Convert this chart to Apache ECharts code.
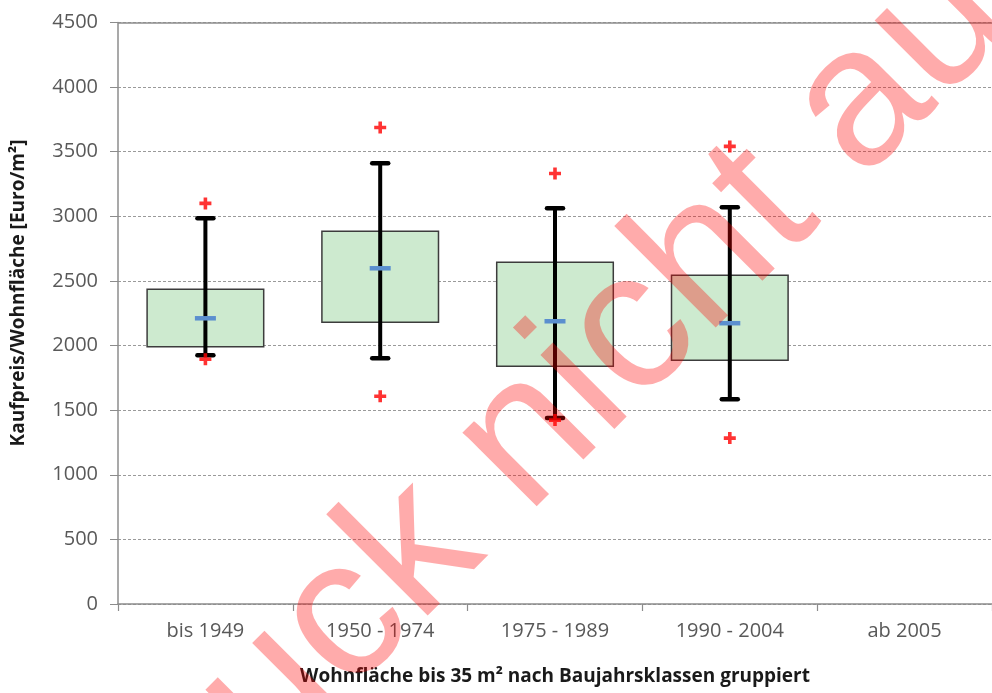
<!DOCTYPE html>
<html>
<head>
<meta charset="utf-8">
<script src="https://cdn.jsdelivr.net/npm/echarts@6/dist/echarts.min.js"></script>
<style>
  html, body { margin: 0; padding: 0; background: #fff; }
  #chart { width: 992px; height: 693px; }
</style>
</head>
<body>
<div id="chart"></div>
<script>
// Construction-year classes on the category axis
const categories = ['bis 1949', '1950 - 1974', '1975 - 1989', '1990 - 2004', 'ab 2005'];

// Box plot statistics in Euro/m² (null = no sales in that class)
const whiskerLow  = [1925, 1902, 1440, 1585, null];
const quartileLow = [1990, 2180, 1840, 1887, null];
const median      = [2211, 2598, 2188, 2173, null];
const quartileHigh= [2435, 2884, 2644, 2544, null];
const whiskerHigh = [2985, 3410, 3062, 3070, null];

// Outliers above and below the whiskers
const outlierHigh = [3100, 3688, 3332, 3541, null];
const outlierLow  = [1894, 1608, 1423, 1284, null];

// Value axis range
const yMin = 0, yMax = 4500, yStep = 500;

const boxData = categories
  .map((c, i) => [i, whiskerLow[i], quartileLow[i], median[i], quartileHigh[i], whiskerHigh[i]])
  .filter(d => d[1] != null);

const outlierData = [];
categories.forEach((c, i) => {
  if (outlierHigh[i] != null) outlierData.push([i, outlierHigh[i]]);
  if (outlierLow[i] != null) outlierData.push([i, outlierLow[i]]);
});

const labelFont = '"Open Sans", "Noto Sans", sans-serif';

function renderBox(params, api) {
  const i = api.value(0);
  const lo = api.coord([i, api.value(1)]);
  const q1 = api.coord([i, api.value(2)]);
  const md = api.coord([i, api.value(3)]);
  const q3 = api.coord([i, api.value(4)]);
  const hi = api.coord([i, api.value(5)]);
  const cx = lo[0];
  const bw = api.size([1, 0])[0] * 0.667;
  const capW = 16, medW = 21;
  return {
    type: 'group',
    children: [
      { type: 'rect',
        shape: { x: cx - bw / 2, y: q3[1], width: bw, height: q1[1] - q3[1] },
        style: { fill: '#cdeacf', stroke: '#3c3c3c', lineWidth: 1.5 } },
      { type: 'line',
        shape: { x1: cx, y1: hi[1], x2: cx, y2: lo[1] },
        style: { stroke: '#000', lineWidth: 4 } },
      { type: 'line',
        shape: { x1: cx - capW / 2, y1: hi[1], x2: cx + capW / 2, y2: hi[1] },
        style: { stroke: '#000', lineWidth: 4.5, lineCap: 'round' } },
      { type: 'line',
        shape: { x1: cx - capW / 2, y1: lo[1], x2: cx + capW / 2, y2: lo[1] },
        style: { stroke: '#000', lineWidth: 4.5, lineCap: 'round' } },
      { type: 'line',
        shape: { x1: cx - medW / 2, y1: md[1], x2: cx + medW / 2, y2: md[1] },
        style: { stroke: '#5b8fcf', lineWidth: 4.5 } }
    ]
  };
}

const chart = echarts.init(document.getElementById('chart'), null, { renderer: 'canvas' });

chart.setOption({
  backgroundColor: '#ffffff',
  animation: false,
  grid: { left: 118, top: 22.5, width: 885, height: 581.5, containLabel: false },
  xAxis: {
    type: 'category',
    data: categories,
    boundaryGap: true,
    axisLine: { lineStyle: { color: '#8c8c8c', width: 1.5 } },
    axisTick: { show: true, length: 7, lineStyle: { color: '#8c8c8c', width: 1.2 } },
    axisLabel: { color: '#595959', fontSize: 20, fontFamily: labelFont, margin: 17 },
    splitLine: { show: false },
    name: 'Wohnfläche bis 35 m² nach Baujahrsklassen gruppiert',
    nameLocation: 'middle',
    nameGap: 63,
    nameTextStyle: { color: '#1a1a1a', fontSize: 19, fontWeight: 'bold', fontFamily: labelFont }
  },
  yAxis: {
    type: 'value',
    min: yMin, max: yMax, interval: yStep,
    axisLine: { show: true, lineStyle: { color: '#8c8c8c', width: 1.5 } },
    axisTick: { show: true, length: 8, lineStyle: { color: '#8c8c8c', width: 1 } },
    axisLabel: { color: '#595959', fontSize: 20, fontFamily: labelFont, margin: 20,
                 formatter: v => String(v) },
    splitLine: { show: true, lineStyle: { color: '#9a9a9a', width: 1, type: [3, 2] } }
  },
  graphic: [
    { type: 'text', x: 19, y: 293, rotation: Math.PI / 2,
      style: { text: 'Kaufpreis/Wohnfläche [Euro/m²]', fill: '#1a1a1a',
               font: 'bold 19px "Open Sans", "Noto Sans", sans-serif',
               align: 'center', verticalAlign: 'middle' },
      silent: true },
    // diagonal stamp laid over the whole chart
    { type: 'text', x: 84, y: 882, rotation: Math.PI / 4,
      style: { text: 'Druck nicht autorisiert', fill: 'rgba(255,0,0,0.33)',
               font: '198px "Liberation Sans", Arial, sans-serif',
               align: 'left', verticalAlign: 'middle' },
      z: 100, silent: true }
  ],
  series: [
    {
      type: 'custom',
      renderItem: renderBox,
      data: boxData,
      encode: { x: 0, y: [1, 2, 3, 4, 5] },
      z: 3,
      markLine: {
        silent: true, symbol: 'none', label: { show: false },
        lineStyle: { color: '#8c8c8c', type: 'solid', width: 1.5 },
        data: [{ yAxis: yMax }]
      }
    },
    {
      type: 'scatter',
      data: outlierData,
      symbol: 'path://M4.2,0 H7.8 V4.2 H12 V7.8 H7.8 V12 H4.2 V7.8 H0 V4.2 H4.2 Z',
      symbolSize: 12,
      itemStyle: { color: '#ff0000' },
      z: 4
    }
  ]
});
</script>
</body>
</html>
